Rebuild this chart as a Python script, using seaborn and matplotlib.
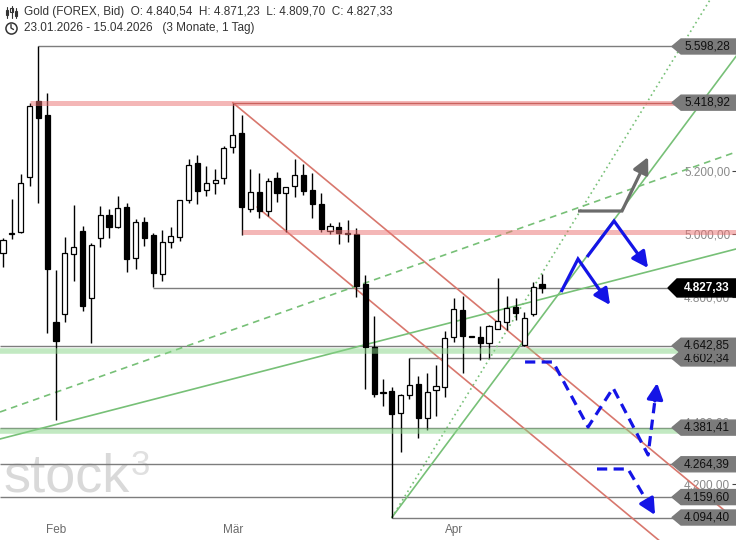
import numpy as np
import seaborn as sns
import matplotlib
matplotlib.use("Agg")
import matplotlib.pyplot as plt
import matplotlib.transforms as mtransforms
from matplotlib.lines import Line2D
from matplotlib.patches import Rectangle

sns.set_theme(style="white")
plt.rcParams["font.family"] = ["Liberation Sans", "DejaVu Sans"]

# daily candles Gold (FOREX, Bid), 23.01.2026 - 15.04.2026
opens = [4938.9, 5001.0, 5006.0, 5181.6, 5424.2, 5379.5, 4718.6, 4744.2, 4935.7, 5009.2,
         4795.2, 4986.8, 5060.2, 5021.9, 5085.8, 4923.0, 5037.9, 4996.4, 4871.9, 4974.0,
         4990.0, 5108.1, 5226.3, 5140.1, 5162.4, 5178.4, 5277.4, 5322.0, 5079.4, 5133.7,
         5073.0, 5178.4, 5130.5, 5152.8, 5188.0, 5140.1, 5095.4, 5009.2, 5021.9, 5001.0,
         4999.6, 4839.9, 4638.8, 4491.9, 4498.3, 4428.1, 4485.6, 4520.7, 4412.1, 4501.5,
         4511.1, 4670.7, 4756.9, 4670.7, 4670.7, 4651.6, 4696.3, 4718.6, 4766.5, 4645.0,
         4744.2, 4840.54]
highs = [4986.8, 5111.3, 5191.2, 5417.8, 5598.28, 5449.8, 4884.7, 4990.0, 5092.2, 5025.1,
         4970.9, 5089.0, 5079.4, 5120.9, 5098.6, 5047.5, 5053.9, 5002.8, 5012.4, 5021.9,
         5108.1, 5239.1, 5251.8, 5216.7, 5207.1, 5280.5, 5418.92, 5379.5, 5207.1, 5194.4,
         5178.4, 5197.5, 5149.6, 5239.1, 5223.1, 5194.4, 5130.5, 5034.7, 5037.9, 5044.3,
         5018.8, 4868.7, 4737.8, 4536.6, 4511.1, 4488.8, 4602.34, 4546.2, 4555.8, 4581.3,
         4689.9, 4795.2, 4801.6, 4671.5, 4705.8, 4709.0, 4859.1, 4801.6, 4795.2, 4750.5,
         4846.3, 4871.23]
lows = [4894.2, 4983.6, 5004.0, 5152.8, 5098.6, 4683.5, 4405.7, 4718.6, 4849.5, 4753.7,
        4651.6, 4958.1, 4986.8, 5018.8, 4878.3, 4887.8, 4961.3, 4830.0, 4849.5, 4954.9,
        4977.2, 5098.6, 5095.4, 5120.9, 5127.3, 5159.2, 5258.2, 4996.4, 5070.0, 5050.7,
        5057.0, 5101.7, 5006.0, 5117.7, 5124.1, 5050.7, 5006.0, 4999.6, 4967.7, 4974.0,
        4798.4, 4504.7, 4479.2, 4450.4, 4094.40, 4303.6, 4472.8, 4348.3, 4373.8, 4418.5,
        4479.2, 4654.8, 4555.8, 4669.9, 4597.3, 4603.7, 4696.3, 4693.1, 4725.0, 4642.85,
        4737.8, 4809.70]
closes = [4980.4, 5004.0, 5162.4, 5408.3, 5370.0, 4887.8, 4658.0, 4938.9, 4958.1, 4769.7,
          4964.5, 5060.2, 5021.9, 5082.6, 4919.8, 5037.9, 4986.8, 4875.1, 4974.0, 4993.2,
          5108.1, 5219.9, 5136.9, 5162.4, 5172.0, 5274.2, 5315.7, 5085.8, 5133.7, 5073.0,
          5168.8, 5130.5, 5149.6, 5188.0, 5136.9, 5095.4, 5015.6, 5025.1, 5002.8, 4999.0,
          4833.5, 4638.8, 4488.8, 4495.1, 4424.9, 4485.6, 4517.5, 4412.1, 4495.1, 4514.3,
          4667.5, 4760.1, 4673.9, 4670.7, 4651.6, 4705.8, 4721.8, 4763.3, 4747.4, 4731.4,
          4830.3, 4827.33]

month_pos = [6, 26, 51]
month_labels = ["Feb", "Mär", "Apr"]
price_ticks = [4200, 4400, 4800, 5000, 5200]

# horizontal levels (price, first candle)
gray_levels = [5598.28, 4827.33, 4642.85, 4602.34, 4381.41, 4264.39, 4159.60, 4094.40]
gray_start = [4, 17, None, 46, None, None, None, 44]
red_zones = [5418.92, 5005.0]
red_zone_start = [3, 27]
green_zones = [4625.0, 4372.0]
tag_values = [4094.40, 4159.60, 4264.39, 4381.41, 4602.34, 4642.85, 4827.33, 5418.92, 5598.28]
last_close = 4827.33

# trend lines: (candle index pair, price pair)
red_upper = ([26, 83], [5418.92, 4085.1])
red_lower = ([28.75, 83], [5085.8, 3816.4])
green_flat = ([-0.34, 82.95], [4345.1, 4951.7])
green_flat_dash = ([-0.34, 82.95], [4431.3, 5261.4])
green_steep = ([44, 83], [4094.40, 5568.6])
green_steep_dot = ([44, 83], [4094.40, 5884.5])

# scenario arrows (candle index, price)
bull1_x, bull1_y = [63.15, 65.07, 68.70], [4814.4, 4919.8, 4772.9]
bull2_x, bull2_y = [66.09, 69.15, 73.0], [4926.2, 5041.1, 4891.0]
grey_x, grey_y = [65.07, 70.05, 73.0], [5073.0, 5073.0, 5245.4]
bear1_x = [59.08, 62.25, 66.21, 69.04, 73.0, 74.02]
bear1_y = [4590.9, 4590.9, 4383.4, 4507.9, 4294.0, 4523.9]
bear2_x, bear2_y = [67.22, 70.73, 73.79], [4249.3, 4249.3, 4102.4]


def de(v):
    s = f"{v:,.2f}"
    return s.replace(",", "X").replace(".", ",").replace("X", ".")


W, H = 736, 540
fig = plt.figure(figsize=(W / 100, H / 100), dpi=100)
ax = fig.add_axes([0, 0, 1, 1])
ax.set_xlim(-0.34, 82.95)
ax.set_ylim(4022.6, 5746.7)
xmin, xmax = ax.get_xlim()
ymin, ymax = ax.get_ylim()
for s in ax.spines.values():
    s.set_visible(False)
ax.set_facecolor("white")

# watermark
ax.text(4 / W, 1 - 492 / H, "stock", transform=ax.transAxes, fontsize=39,
        color="#d9d9d9", va="baseline", ha="left", zorder=0.5)
ax.text(131 / W, 1 - 475 / H, "3", transform=ax.transAxes, fontsize=25,
        color="#e0e0e0", va="baseline", ha="left", zorder=0.5)

# gray level lines
for lvl, st in zip(gray_levels, gray_start):
    ax.hlines(lvl, xmin if st is None else st, xmax, color="#7d7d7d", lw=1.0, zorder=2)

# trend lines
for (xs, ys), col, ls in [(red_upper, "#d8776d", "-"), (red_lower, "#d8776d", "-"),
                          (green_flat, "#77c077", "-"), (green_flat_dash, "#77c077", (0, (4, 3))),
                          (green_steep, "#77c077", "-"), (green_steep_dot, "#77c077", (0, (1, 2)))]:
    sns.lineplot(x=xs, y=ys, ax=ax, color=col, lw=1.2, linestyle=ls, zorder=3)

# candles
idx = np.arange(len(opens))
o, h, l, c = map(np.array, (opens, highs, lows, closes))
up = c >= o
ax.vlines(idx, l, h, color="black", lw=1.0, zorder=4)
body_lo = np.minimum(o, c)
body_h = np.maximum(np.abs(c - o), 2.5)
ax.bar(idx, body_h, bottom=body_lo, width=0.58, color=np.where(up, "white", "black"),
       edgecolor="black", lw=0.9, zorder=5)

# zones
for lvl, st in zip(red_zones, red_zone_start):
    ax.hlines(lvl, st, xmax, color="#eb7070", alpha=0.5, lw=3.6, zorder=6)
ax.hlines(red_zones[0], 26, xmax, color="#c9625e", lw=1.0, zorder=6.5)
for lvl in green_zones:
    ax.hlines(lvl, xmin, xmax, color="#86d486", alpha=0.5, lw=4.0, zorder=6)


def arrow(xs, ys, color, ls="-"):
    xs, ys = list(xs), list(ys)
    fx = xs[-2] + 0.75 * (xs[-1] - xs[-2])
    fy = ys[-2] + 0.75 * (ys[-1] - ys[-2])
    ax.plot(xs[:-1] + [fx], ys[:-1] + [fy], color=color, lw=2.3, linestyle=ls,
            solid_capstyle="butt", solid_joinstyle="miter", zorder=8)
    ax.annotate("", xy=(xs[-1], ys[-1]), xytext=(fx, fy),
                arrowprops=dict(arrowstyle="-|>", color=color, lw=2.3,
                                mutation_scale=24, shrinkA=0, shrinkB=0), zorder=8)


blue = "#1414e6"
arrow(bull1_x, bull1_y, blue)
arrow(bull2_x, bull2_y, blue)
arrow(grey_x, grey_y, "#6b6b6b")
arrow(bear1_x, bear1_y, blue, (0, (3.2, 2.0)))
arrow(bear2_x, bear2_y, blue, (0, (3.2, 2.0)))

# right axis ticks
ax.yaxis.tick_right()
ax.set_yticks(price_ticks, [de(v) for v in price_ticks])
ax.tick_params(axis="y", direction="in", length=3, width=0.8, color="#444",
               pad=-37.4, labelsize=8.5, labelcolor="#8a8a8a")
ax.set_xticks(month_pos, month_labels)
ax.tick_params(axis="x", direction="in", length=3, width=0.8, color="#333",
               pad=-11.5, labelsize=8.5, labelcolor="#6a6a6a")
ax.set_xlabel("")
ax.set_ylabel("")
ax.grid(False)

# price tags
trans = mtransforms.blended_transform_factory(ax.transAxes, ax.transData)
for k, v in enumerate(tag_values):
    if v == last_close:
        fc, tc, fw, hp, tip = "black", "white", "bold", 9.0, 668
    else:
        fc, tc, fw, hp, tip = "#7b7b7b", "#111111", "normal", 7.5, 672
    hh = hp * (ymax - ymin) / H
    ax.fill([tip / W, (tip + 9) / W, 1, 1, (tip + 9) / W], [v, v + hh, v + hh, v - hh, v - hh],
            transform=trans, color=fc, zorder=20 + k, clip_on=False)
    ax.text(684 / W, v, de(v), transform=trans, va="center", ha="left", fontsize=8.5,
            color=tc, fontweight=fw, zorder=20.5 + k)

# header
def P(x, y):
    return x / W, 1 - y / H


fig.text(*P(24, 12), "Gold (FOREX, Bid)  O: 4.840,54  H: 4.871,23  L: 4.809,70  C: 4.827,33",
         fontsize=8.5, color="#333333", va="center", ha="left")
fig.text(*P(24, 28), "23.01.2026 - 15.04.2026   (3 Monate, 1 Tag)",
         fontsize=8.5, color="#333333", va="center", ha="left")
for cx, top, bot, b0, b1 in [(7, 7, 18, 10, 15), (11.5, 6, 18, 8, 12), (16, 8, 18, 11, 16)]:
    x0, y0 = P(cx, top)
    x1, y1 = P(cx, bot)
    fig.add_artist(Line2D([x0, x1], [y0, y1], color="#333", lw=0.8, transform=fig.transFigure))
    rx, ry = P(cx - 1.3, b1)
    fig.add_artist(Rectangle((rx, ry), 2.6 / W, (b1 - b0) / H, facecolor="white",
                             edgecolor="#333", lw=0.8, transform=fig.transFigure))
cx, cy = P(11, 28)
fig.add_artist(Line2D([cx], [cy], marker="o", ms=8, mfc="none", mec="#333", mew=1.1,
                      transform=fig.transFigure))
fig.add_artist(Line2D([cx, cx, P(13.5, 29.5)[0]], [P(11, 24.5)[1], cy, P(13.5, 29.5)[1]],
                      color="#333", lw=1.0, transform=fig.transFigure))

fig.savefig("out.png", dpi=100)
